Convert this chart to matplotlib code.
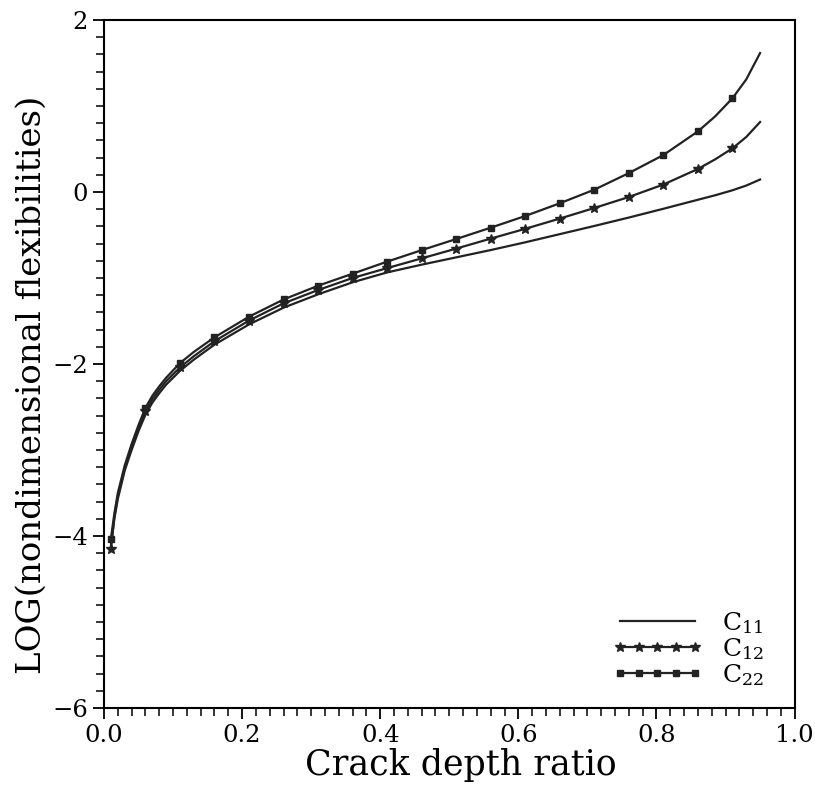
import numpy as np
import matplotlib
matplotlib.use("Agg")
import matplotlib.pyplot as plt
from matplotlib.ticker import MultipleLocator

# crack depth ratio (line points); markers sit at 0.01 + 0.05k
crack_ratio = [0.01, 0.015, 0.02, 0.03, 0.04, 0.05, 0.06, 0.07, 0.08, 0.09,
               0.11, 0.13, 0.16, 0.21, 0.26, 0.31, 0.36, 0.41, 0.46, 0.51,
               0.56, 0.61, 0.66, 0.71, 0.76, 0.81, 0.86, 0.885, 0.91, 0.93, 0.95]
log_c11 = [-4.12, -3.80, -3.57, -3.24, -3.00, -2.78, -2.59, -2.45, -2.34, -2.24,
           -2.08, -1.95, -1.775, -1.54, -1.345, -1.19, -1.05, -0.935, -0.845, -0.76,
           -0.675, -0.585, -0.49, -0.395, -0.297, -0.195, -0.09, -0.038, 0.02, 0.075, 0.145]
log_c12 = [-4.15, -3.78, -3.54, -3.21, -2.97, -2.75, -2.55, -2.41, -2.30, -2.20,
           -2.04, -1.91, -1.735, -1.495, -1.295, -1.14, -1.0, -0.885, -0.772, -0.658,
           -0.542, -0.428, -0.309, -0.186, -0.058, 0.087, 0.268, 0.38, 0.508, 0.64, 0.814]
log_c22 = [-4.03, -3.74, -3.50, -3.18, -2.93, -2.71, -2.51, -2.37, -2.26, -2.16,
           -1.99, -1.86, -1.69, -1.45, -1.25, -1.09, -0.95, -0.81, -0.676, -0.547,
           -0.415, -0.279, -0.131, 0.027, 0.22, 0.43, 0.705, 0.88, 1.09, 1.31, 1.616]
series_labels = ["C$_{11}$", "C$_{12}$", "C$_{22}$"]

plt.rcParams['font.family'] = ['DejaVu Serif']
plt.rcParams['mathtext.fontset'] = 'dejavuserif'

x = np.array(crack_ratio)
mark_idx = [i for i, v in enumerate(crack_ratio)
            if abs((v - 0.01) / 0.05 - round((v - 0.01) / 0.05)) < 1e-6]

fig = plt.figure(figsize=(8.15, 7.91), dpi=100)
ax = fig.add_axes([0.1276, 0.105, 0.8474, 0.8697])

ax.plot(x, log_c11, color='#222222', lw=1.6, label=series_labels[0])
ax.plot(x, log_c12, color='#222222', lw=1.6, marker='*', ms=7, markevery=mark_idx,
        label=series_labels[1])
ax.plot(x, log_c22, color='#222222', lw=1.6, marker='s', ms=4, markevery=mark_idx,
        label=series_labels[2])

ax.set_xlim(0, 1)
ax.set_ylim(-6, 2)
ax.xaxis.set_major_locator(MultipleLocator(0.2))
ax.xaxis.set_minor_locator(MultipleLocator(0.02))
ax.yaxis.set_major_locator(MultipleLocator(2))
ax.yaxis.set_minor_locator(MultipleLocator(0.2))
ax.set_xticklabels([f"{v:.1f}" for v in ax.get_xticks()])
ax.tick_params(which='major', length=8, width=1.3, labelsize=17.5, direction='out')
ax.tick_params(which='minor', length=6, width=1.1, direction='out')
for s in ax.spines.values():
    s.set_linewidth(1.5)

ax.set_xlabel("Crack depth ratio", fontsize=25)
ax.set_ylabel("LOG(nondimensional flexibilities)", fontsize=24.5)
ax.xaxis.set_label_coords(0.516, -0.058)
ax.yaxis.set_label_coords(-0.082, 0.47)

leg = ax.legend(loc='lower right', frameon=False, fontsize=18, numpoints=5,
                handlelength=3.6, labelspacing=0.0, borderaxespad=0.4,
                bbox_to_anchor=(0.985, 0.0))

fig.savefig("out.png", dpi=100)
